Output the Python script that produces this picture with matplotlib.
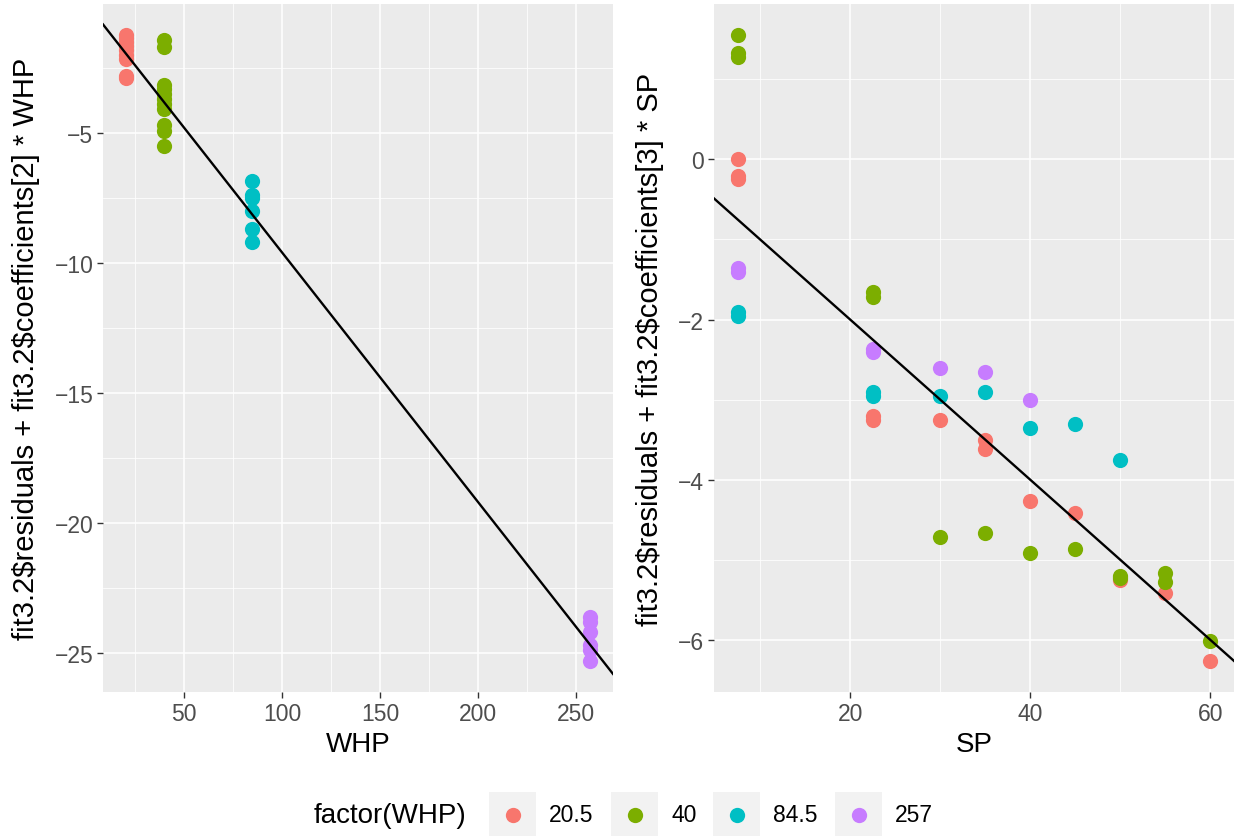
import numpy as np
import matplotlib
matplotlib.use("Agg")
import matplotlib.pyplot as plt
from matplotlib.patches import Rectangle
from matplotlib.lines import Line2D
from matplotlib.ticker import MultipleLocator

plt.rcParams["font.family"] = ["Liberation Sans", "DejaVu Sans"]

# WHP levels and their ggplot hue colours
whp_levels = [20.5, 40, 84.5, 257]
level_labels = ["20.5", "40", "84.5", "257"]
level_colors = ["#F8766D", "#7CAE00", "#00BFC4", "#C77CFF"]

# partial residuals for WHP
whp_x = [20.5] * 9 + [40] * 11 + [84.5] * 6 + [257] * 6
whp_y = [-1.25, -1.35, -1.5, -1.65, -1.8, -2.0, -2.15, -2.8, -2.9,
         -1.45, -1.7, -3.15, -3.3, -3.5, -3.7, -3.9, -4.1, -4.7, -4.95, -5.5,
         -6.85, -7.4, -7.5, -8.0, -8.7, -9.2,
         -23.6, -23.8, -24.2, -24.7, -24.9, -25.3]
whp_coef = -0.096

# partial residuals for SP, coloured by WHP
sp_x = [7.5, 7.5, 7.5, 22.5, 22.5, 30, 35, 35, 40, 45, 50, 55, 60,
        7.5, 7.5, 7.5, 22.5, 22.5, 30, 35, 40, 45, 50, 50, 55, 55, 60,
        7.5, 7.5, 22.5, 22.5, 30, 35, 40, 45, 50,
        7.5, 7.5, 22.5, 22.5, 30, 35, 40]
sp_y = [0.0, -0.21, -0.25, -3.2, -3.26, -3.25, -3.51, -3.61, -4.26, -4.41, -5.25, -5.42, -6.26,
        1.55, 1.33, 1.28, -1.66, -1.72, -4.71, -4.66, -4.91, -4.87, -5.2, -5.23, -5.16, -5.28, -6.01,
        -1.9, -1.95, -2.9, -2.95, -2.96, -2.9, -3.35, -3.31, -3.75,
        -1.35, -1.41, -2.37, -2.41, -2.61, -2.66, -3.01]
sp_whp = [20.5] * 13 + [40] * 14 + [84.5] * 9 + [257] * 7
sp_coef = -0.100

W, H = 1238, 837
fig = plt.figure(figsize=(W / 100, H / 100), dpi=100)
ax1 = fig.add_axes([103 / W, 1 - 693 / H, 510 / W, 688 / H])
ax2 = fig.add_axes([714 / W, 1 - 693 / H, 520 / W, 688 / H])


def expand(vals, m=0.05):
    lo, hi = min(vals), max(vals)
    d = (hi - lo) * m
    return lo - d, hi + d


def style(ax):
    ax.set_facecolor("#EBEBEB")
    for s in ax.spines.values():
        s.set_visible(False)
    ax.grid(which="major", color="white", lw=1.1)
    ax.grid(which="minor", color="white", lw=0.55)
    ax.set_axisbelow(True)
    ax.tick_params(which="major", length=4, width=1.0, color="#333333",
                   labelcolor="#4D4D4D", labelsize=16.5, pad=3)
    ax.tick_params(which="minor", length=0)


def panel(ax, x, y, grp, coef, xlabel, ylabel):
    x, y, grp = np.asarray(x), np.asarray(y), np.asarray(grp)
    style(ax)
    for lev, col in zip(whp_levels, level_colors):
        m = grp == lev
        ax.scatter(x[m], y[m], s=120, color=col, linewidths=0, zorder=3)
    ax.set_xlim(*expand(x))
    ax.set_ylim(*expand(y))
    ax.axline((0, 0), slope=coef, color="black", lw=1.7, zorder=4)
    ax.set_xlabel(xlabel, fontsize=20)
    ax.set_ylabel(ylabel, fontsize=21, parse_math=False)


panel(ax1, whp_x, whp_y, whp_x, whp_coef, "WHP",
      "fit3.2$residuals + fit3.2$coefficients[2] * WHP")
ax1.xaxis.set_major_locator(MultipleLocator(50))
ax1.xaxis.set_minor_locator(MultipleLocator(25))
ax1.yaxis.set_major_locator(MultipleLocator(5))
ax1.yaxis.set_minor_locator(MultipleLocator(2.5))
ax1.xaxis.set_label_coords(0.5, -0.076)
ax1.yaxis.set_label_coords(-0.151, 0.5)

panel(ax2, sp_x, sp_y, sp_whp, sp_coef, "SP",
      "fit3.2$residuals + fit3.2$coefficients[3] * SP")
ax2.xaxis.set_major_locator(MultipleLocator(20))
ax2.xaxis.set_minor_locator(MultipleLocator(10))
ax2.yaxis.set_major_locator(MultipleLocator(2))
ax2.yaxis.set_minor_locator(MultipleLocator(1))
ax2.xaxis.set_label_coords(0.5, -0.076)
ax2.yaxis.set_label_coords(-0.123, 0.5)

for ax in (ax1, ax2):
    ax.xaxis.label.set_va("center")
    ax.yaxis.label.set_va("center")


# legend along the bottom
def fx(v):
    return v / W


def fy(v):
    return 1 - v / H


fig.text(fx(314), fy(816), "factor(WHP)", fontsize=20, ha="left", va="center")
box_left = [489, 611, 713, 835]
for x0, lab, col in zip(box_left, level_labels, level_colors):
    fig.add_artist(Rectangle((fx(x0), fy(837)), 47 / W, 44 / H,
                             transform=fig.transFigure, color="#F2F2F2", lw=0))
    fig.add_artist(Line2D([fx(x0 + 23.5)], [fy(816)], marker="o", ms=11,
                          color=col, mew=0, transform=fig.transFigure))
    fig.text(fx(x0 + 60), fy(816), lab, fontsize=16.5, ha="left", va="center")

fig.savefig("out.png", dpi=100)
